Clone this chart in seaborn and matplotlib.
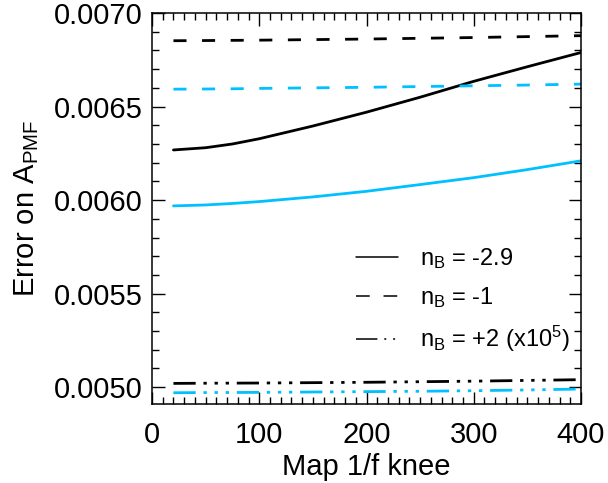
"""Error on A_PMF versus map 1/f knee for three magnetic spectral indices."""

import matplotlib

matplotlib.use("Agg")

import matplotlib.pyplot as plt
import pandas as pd
import seaborn as sns
from matplotlib.lines import Line2D
from matplotlib.ticker import FormatStrFormatter, MultipleLocator

# knee values sampled along the curves
knee = [20, 50, 75, 100, 150, 200, 250, 300, 350, 400]

# n_B = -2.9 (solid)
solid_black = [0.006268, 0.006280, 0.006300, 0.006328, 0.006396, 0.006470, 0.006550, 0.006635, 0.006713, 0.006789]
solid_cyan = [0.005969, 0.005974, 0.005982, 0.005992, 0.006017, 0.006047, 0.006083, 0.006120, 0.006163, 0.006210]

# n_B = -1 (dashed)
dash_black = [0.006852, 0.006853, 0.006854, 0.006855, 0.006858, 0.006861, 0.006865, 0.006869, 0.006874, 0.006879]
dash_cyan = [0.006593, 0.006594, 0.006595, 0.006597, 0.006600, 0.006603, 0.006607, 0.006611, 0.006615, 0.006620]

# n_B = +2, scaled by 1e5 (dash-dot-dot-dot)
ddd_black = [0.005020, 0.005021, 0.0050215, 0.005022, 0.005024, 0.005026, 0.005029, 0.005032, 0.005036, 0.005040]
ddd_cyan = [0.004970, 0.004971, 0.0049715, 0.004972, 0.004974, 0.004976, 0.004978, 0.004981, 0.004985, 0.004990]

legend_labels = [
    r"n$_\mathregular{B}$ = -2.9",
    r"n$_\mathregular{B}$ = -1",
    r"n$_\mathregular{B}$ = +2 (x10$^\mathregular{5}$)",
]

BLACK = "black"
CYAN = "#00C0FF"
DASHED = (4.7, 5.6)
DDD = (8, 2.8, 1.2, 2.8, 1.2, 2.8, 1.2, 2.8)

sns.set_style("ticks")
plt.rcParams["font.family"] = ["Liberation Sans", "DejaVu Sans"]
plt.rcParams["mathtext.default"] = "regular"
plt.rcParams["axes.linewidth"] = 1.1
plt.rcParams["text.color"] = "black"
plt.rcParams["axes.labelcolor"] = "black"
plt.rcParams["xtick.color"] = "black"
plt.rcParams["ytick.color"] = "black"
plt.rcParams["axes.edgecolor"] = "black"

fig = plt.figure(figsize=(6.08, 4.83), dpi=100)
ax = fig.add_axes([0.25, 0.1636, 0.7056, 0.8094])

series = [
    (solid_black, BLACK, ""),
    (solid_cyan, CYAN, ""),
    (dash_black, BLACK, DASHED),
    (dash_cyan, CYAN, DASHED),
    (ddd_black, BLACK, DDD),
    (ddd_cyan, CYAN, DDD),
]
for values, color, dash in series:
    df = pd.DataFrame({"knee": knee, "err": values})
    line = sns.lineplot(data=df, x="knee", y="err", color=color, lw=2.0, ax=ax)
    if dash:
        line.lines[-1].set_dashes(dash)

ax.set_xlim(0, 400)
ax.set_ylim(0.00491, 0.0070)
ax.xaxis.set_major_locator(MultipleLocator(100))
ax.xaxis.set_minor_locator(MultipleLocator(10))
ax.yaxis.set_major_locator(MultipleLocator(0.0005))
ax.yaxis.set_minor_locator(MultipleLocator(0.0001))
ax.yaxis.set_major_formatter(FormatStrFormatter("%.4f"))
ax.tick_params(which="both", direction="in", top=True, right=True, width=1.0, labelsize=21)
ax.tick_params(axis="x", pad=12)
ax.tick_params(axis="y", pad=7)
ax.tick_params(which="major", length=9)
ax.tick_params(which="minor", length=5)

ax.set_xlabel("Map 1/f knee", fontsize=21, labelpad=3)
ax.set_ylabel("Error on A$_{PMF}$", fontsize=21, labelpad=9)

handles = [
    Line2D([], [], color=BLACK, lw=1.1),
    Line2D([], [], color=BLACK, lw=1.1, dashes=(9, 9)),
    Line2D([], [], color=BLACK, lw=1.1, dashes=(14, 4.5, 1.3, 4.5, 1.3, 4.5)),
]
ax.legend(
    handles,
    legend_labels,
    loc="upper left",
    bbox_to_anchor=(0.4755, 0.404),
    borderaxespad=0,
    borderpad=0,
    frameon=False,
    fontsize=17,
    handlelength=1.78,
    handletextpad=0.93,
    labelspacing=0.6,
)

fig.savefig("out.png", dpi=100)
